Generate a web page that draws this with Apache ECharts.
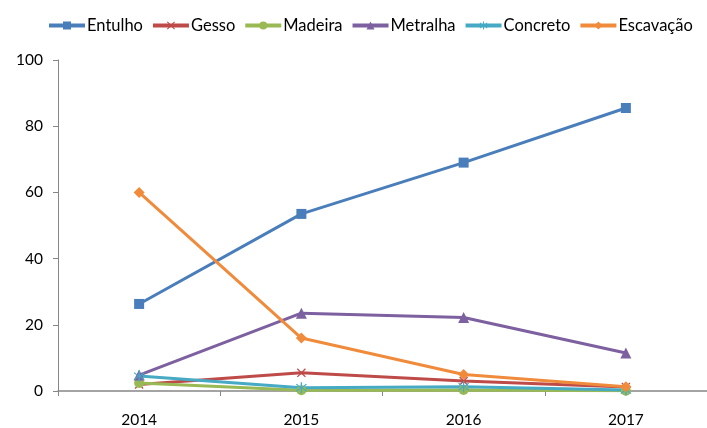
<!DOCTYPE html>
<html><head><meta charset="utf-8">
<script src="https://cdn.jsdelivr.net/npm/echarts@6/dist/echarts.min.js"></script>
<style>html,body{margin:0;padding:0;background:#fff}#c{width:707px;height:428px}</style>
</head><body><div id="c"></div>
<script>
const categories = ['2014','2015','2016','2017'];
const entulho = [26.3, 53.5, 69.0, 85.5];
const gesso = [2.0, 5.5, 3.0, 1.2];
const madeira = [2.4, 0.2, 0.3, 0.1];
const metralha = [4.8, 23.5, 22.2, 11.5];
const concreto = [4.5, 1.0, 1.3, 0.3];
const escavacao = [60.0, 16.0, 5.0, 1.3];
const yTicks = [0, 20, 40, 60, 80, 100];

const xMark = 'path://M1,0L5,4L9,0L10,1L6,5L10,9L9,10L5,6L1,10L0,9L4,5L0,1Z';
const star = 'path://M4.4,0H5.6V4.4L9,1.4L9.8,2.2L6.2,5L9.8,7.8L9,8.6L5.6,5.6V10H4.4V5.6L1,8.6L0.2,7.8L3.8,5L0.2,2.2L1,1.4L4.4,4.4Z';

function s(name, data, color, symbol, size){
  return {name, type:'line', data, symbol, symbolSize:size,
    lineStyle:{color, width:3}, itemStyle:{color}, emphasis:{disabled:true}};
}
const chart = echarts.init(document.getElementById('c'));
chart.setOption({
  animation:false,
  textStyle:{fontFamily:'Lato'},
  legend:{top:12, left:42, width:667, itemWidth:36, itemHeight:10, itemGap:8,
    lineStyle:{width:4},
    textStyle:{fontSize:16.5, color:'#000', fontFamily:'Lato', padding:[0,0,0,-3]},
    data:['Entulho','Gesso','Madeira','Metralha','Concreto','Escavação']},
  grid:{left:58, right:-3, top:60, bottom:36},
  xAxis:{type:'category', data:categories, boundaryGap:true,
    axisLine:{lineStyle:{color:'#868686', width:1.5}},
    axisTick:{show:true, length:5, lineStyle:{color:'#868686'}, alignWithLabel:false},
    axisLabel:{fontSize:15.5, color:'#000', margin:21}},
  yAxis:{type:'value', min:yTicks[0], max:yTicks[yTicks.length-1], interval:20,
    axisLine:{show:true, lineStyle:{color:'#868686'}},
    axisTick:{show:true, length:5, lineStyle:{color:'#868686'}},
    splitLine:{show:false},
    axisLabel:{fontSize:15.5, color:'#000', margin:15}},
  series:[
    s('Entulho', entulho, '#4A7EBB', 'rect', 10),
    s('Gesso', gesso, '#BE4B48', xMark, 9),
    s('Madeira', madeira, '#98B954', 'circle', 10),
    s('Metralha', metralha, '#7D60A0', 'triangle', 11),
    s('Concreto', concreto, '#46AAC5', star, 11),
    s('Escavação', escavacao, '#F08B3C', 'diamond', 11)
  ]
});
</script></body></html>
